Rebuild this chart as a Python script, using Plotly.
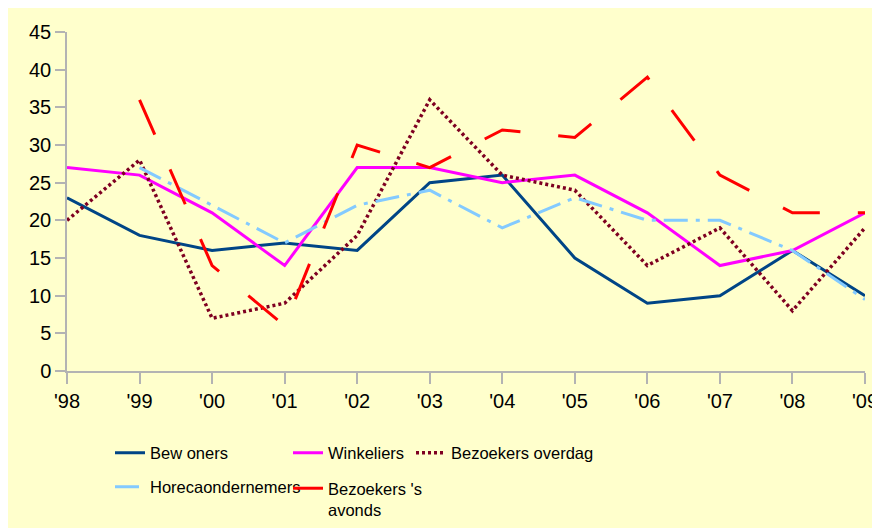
import plotly.graph_objects as go

years = ["'98", "'99", "'00", "'01", "'02", "'03", "'04", "'05", "'06", "'07", "'08", "'09"]
bewoners = [23, 18, 16, 17, 16, 25, 26, 15, 9, 10, 16, 10]
winkeliers = [27, 26, 21, 14, 27, 27, 25, 26, 21, 14, 16, 21]
bezoekers_overdag = [20, 28, 7, 9, 18, 36, 26, 24, 14, 19, 8, 19]
horeca = [None, 27, 22, 17, 22, 24, 19, 23, 20, 20, 16, 9.5]
bezoekers_avonds = [None, 36, 14, 6, 30, 27, 32, 31, 39, 26, 21, 21]
y_ticks = [0, 5, 10, 15, 20, 25, 30, 35, 40, 45]

xs = list(range(len(years)))
FONT = "Liberation Sans, Arial, sans-serif"
BG = "#FFFFCC"

series = [
    ("Bew oners", bewoners, "#004586", "solid", 3, "legend"),
    ("Winkeliers", winkeliers, "#FF00FF", "solid", 3, "legend2"),
    ("Bezoekers overdag", bezoekers_overdag, "#7E0021", "3px,3px", 3.5, "legend3"),
    ("Horecaondernemers", horeca, "#83CAFF", "24px,8px,4px,8px", 3, "legend4"),
    ("Bezoekers 's<br>avonds", bezoekers_avonds, "#FF0000", "38px,38px", 3, "legend5"),
]

fig = go.Figure()
for name, vals, color, dash, w, lg in series:
    fig.add_trace(go.Scatter(
        x=xs, y=vals, name=name, mode="lines",
        line=dict(color=color, width=w, dash=dash),
        connectgaps=False, legend=lg,
    ))

# figure geometry (pixels, figure coordinates; page adds an 8px body margin)
FW, FH = 872, 520
L, R, T, B = 59, 15, 24, 157
W = FW - L - R
H = FH - T - B

def px_x(p):
    return (p - L) / W

def px_y(p):
    return (FH - B - p) / H

leg_common = dict(orientation="h", bgcolor="rgba(0,0,0,0)", borderwidth=0,
                  font=dict(family=FONT, size=16.5, color="#000000"),
                  xanchor="left", itemwidth=30)

fig.update_layout(
    width=FW, height=FH,
    margin=dict(l=L, r=R, t=T, b=B, autoexpand=False),
    paper_bgcolor=BG,
    plot_bgcolor=BG,
    font=dict(family=FONT, size=18, color="#000000"),
    showlegend=True,
    legend=dict(**leg_common, x=px_x(102), y=px_y(445), yanchor="middle"),
    legend2=dict(**leg_common, x=px_x(280), y=px_y(445), yanchor="middle"),
    legend3=dict(**leg_common, x=px_x(403), y=px_y(445), yanchor="middle"),
    legend4=dict(**leg_common, x=px_x(102), y=px_y(479), yanchor="middle"),
    legend5=dict(**leg_common, x=px_x(280), y=px_y(463), yanchor="top", valign="top"),
    xaxis=dict(
        range=[0, len(years) - 1], tickmode="array", tickvals=xs, ticktext=years,
        showgrid=False, zeroline=False, showline=True, linecolor="#B3B3B3", linewidth=1.5,
        ticks="outside", ticklen=11, tickcolor="#B3B3B3", tickwidth=1.5, automargin=False,
        tickfont=dict(family=FONT, size=20, color="#000000"),
    ),
    yaxis=dict(
        range=[0, 45], tickmode="array", tickvals=y_ticks,
        showgrid=False, zeroline=False, showline=True, linecolor="#B3B3B3", linewidth=1.5,
        ticks="outside", ticklen=10, tickcolor="#B3B3B3", tickwidth=1.5, automargin=False,
        tickfont=dict(family=FONT, size=20, color="#000000"),
    ),
)

fig.write_html("out.html")
